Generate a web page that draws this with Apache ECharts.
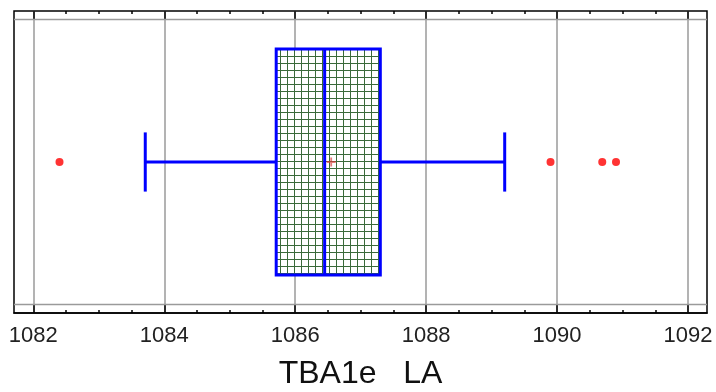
<!DOCTYPE html>
<html>
<head>
<meta charset="utf-8">
<script src="https://cdn.jsdelivr.net/npm/echarts@6/dist/echarts.min.js"></script>
<style>
  html, body { margin: 0; padding: 0; background: #fff; }
  #chart { width: 716px; height: 392px; }
</style>
</head>
<body>
<div id="chart"></div>
<script>
// data
const categories = ["TBA1e   LA"];
const boxStats = [1083.71, 1085.71, 1086.45, 1087.30, 1089.20]; // low whisker, Q1, median, Q3, high whisker
const meanValues = [1086.55];
const outliers = [1082.40, 1089.90, 1090.69, 1090.90];
const majorTicks = [1082, 1084, 1086, 1088, 1090, 1092];
const minorTicks = [
  1082.5, 1083, 1083.5, 1084.5, 1085, 1085.5, 1086.5, 1087, 1087.5,
  1088.5, 1089, 1089.5, 1090.5, 1091, 1091.5
];
const axisMin = 1081.705;
const axisMax = 1092.29;

const blue = "#0000ff";

// crosshatch fill for the box
const patternCanvas = document.createElement("canvas");
patternCanvas.width = 7;
patternCanvas.height = 7;
const pctx = patternCanvas.getContext("2d");
pctx.fillStyle = "#ffffff";
pctx.fillRect(0, 0, 7, 7);
pctx.fillStyle = "#3a6a3a";
pctx.fillRect(0, 0, 7, 1);
pctx.fillRect(0, 0, 1, 7);

function renderBox(params, api) {
  const yIdx = api.value(5);
  const pLow = api.coord([api.value(0), yIdx]);
  const pQ1 = api.coord([api.value(1), yIdx]);
  const pMed = api.coord([api.value(2), yIdx]);
  const pQ3 = api.coord([api.value(3), yIdx]);
  const pHigh = api.coord([api.value(4), yIdx]);
  const band = api.size([0, 1])[1];
  const boxHalf = band * 0.374;
  const capHalf = band * 0.098;
  const cy = pLow[1];
  const lineStyle = { stroke: blue, lineWidth: 3 };
  return {
    type: "group",
    children: [
      { type: "line", shape: { x1: pLow[0], y1: cy, x2: pQ1[0], y2: cy }, style: lineStyle },
      { type: "line", shape: { x1: pQ3[0], y1: cy, x2: pHigh[0], y2: cy }, style: lineStyle },
      { type: "line", shape: { x1: pLow[0], y1: cy - capHalf, x2: pLow[0], y2: cy + capHalf }, style: lineStyle },
      { type: "line", shape: { x1: pHigh[0], y1: cy - capHalf, x2: pHigh[0], y2: cy + capHalf }, style: lineStyle },
      {
        type: "rect",
        shape: { x: pQ1[0], y: cy - boxHalf, width: pQ3[0] - pQ1[0], height: boxHalf * 2 },
        style: { fill: { image: patternCanvas, repeat: "repeat" }, stroke: blue, lineWidth: 3 }
      },
      { type: "line", shape: { x1: pMed[0], y1: cy - boxHalf, x2: pMed[0], y2: cy + boxHalf }, style: lineStyle }
    ]
  };
}

const chart = echarts.init(document.getElementById("chart"), null, { renderer: "canvas" });

const gridBox = { left: 14, right: 9, top: 11, bottom: 79, outerBoundsMode: "none", containLabel: false };

// tick-only axis, drawn inside the frame
const tickAxis = (gridIndex, position, values, length) => ({
  type: "value",
  gridIndex: gridIndex,
  position: position,
  min: axisMin,
  max: axisMax,
  axisLine: { show: false },
  axisTick: { show: true, inside: true, length: length, customValues: values, lineStyle: { color: "#000", width: 1.5 } },
  axisLabel: { show: false },
  splitLine: { show: false }
});

const hiddenY = (gridIndex) => ({
  type: "category",
  gridIndex: gridIndex,
  data: categories,
  axisLine: { show: false },
  axisTick: { show: false },
  axisLabel: { show: false },
  splitLine: { show: false }
});

const option = {
  animation: false,
  backgroundColor: "#ffffff",
  grid: [
    Object.assign({ show: true, borderColor: "#000", borderWidth: 1.5 }, gridBox),
    Object.assign({ show: false }, gridBox)
  ],
  xAxis: [
    {
      type: "value",
      gridIndex: 0,
      position: "bottom",
      min: axisMin,
      max: axisMax,
      name: categories[0],
      nameLocation: "middle",
      nameGap: 45,
      nameTextStyle: { fontFamily: "Liberation Sans", fontSize: 32, color: "#111" },
      axisLine: { show: true, lineStyle: { color: "#000", width: 1.5 } },
      axisTick: { show: true, inside: true, length: 8, customValues: majorTicks, lineStyle: { color: "#000", width: 1.5 } },
      axisLabel: {
        customValues: majorTicks,
        margin: 12,
        fontFamily: "Liberation Sans",
        fontSize: 22,
        color: "#222",
        formatter: v => String(v)
      },
      splitLine: { show: true, lineStyle: { color: "#9a9a9a", width: 1.5 } }
    },
    tickAxis(0, "top", majorTicks, 8),
    tickAxis(1, "bottom", minorTicks, 3),
    tickAxis(1, "top", minorTicks, 3)
  ],
  yAxis: [hiddenY(0), hiddenY(1)],
  graphic: [
    { type: "line", shape: { x1: 14, y1: 19.5, x2: 707, y2: 19.5 }, style: { stroke: "#9a9a9a", lineWidth: 1.5 }, z: 1 },
    { type: "line", shape: { x1: 14, y1: 304.5, x2: 707, y2: 304.5 }, style: { stroke: "#9a9a9a", lineWidth: 1.5 }, z: 1 }
  ],
  series: [
    {
      type: "custom",
      xAxisIndex: 0,
      yAxisIndex: 0,
      renderItem: renderBox,
      encode: { x: [0, 1, 2, 3, 4], y: 5 },
      data: [[...boxStats, 0]],
      z: 2
    },
    {
      type: "scatter",
      xAxisIndex: 0,
      yAxisIndex: 0,
      symbol: "circle",
      symbolSize: 8,
      itemStyle: { color: "#ff0000" },
      data: outliers.map(v => [v, 0]),
      z: 3
    },
    {
      type: "scatter",
      xAxisIndex: 0,
      yAxisIndex: 0,
      symbol: "path://M4,0 L6,0 L6,4 L10,4 L10,6 L6,6 L6,10 L4,10 L4,6 L0,6 L0,4 L4,4 Z",
      symbolSize: 9,
      itemStyle: { color: "rgba(215,60,60,0.85)" },
      data: meanValues.map(v => [v, 0]),
      z: 4
    }
  ]
};

chart.setOption(option);
</script>
</body>
</html>
